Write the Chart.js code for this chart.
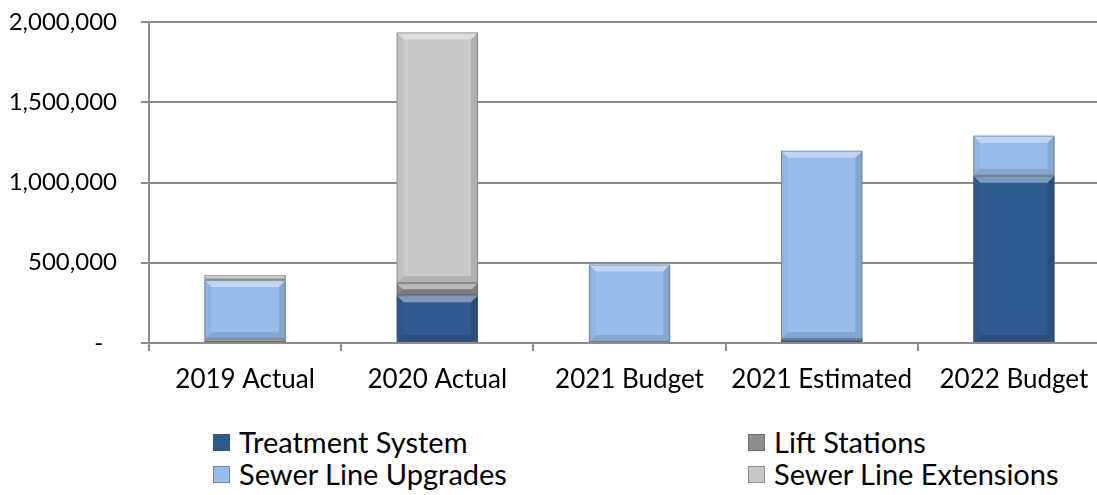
<!DOCTYPE html>
<html>
<head>
<meta charset="utf-8">
<script src="https://cdn.jsdelivr.net/npm/chart.js@4.4.1/dist/chart.umd.min.js"></script>
<style>
  html, body { margin: 0; padding: 0; background: #fff; }
  body { width: 1097px; height: 495px; overflow: hidden; position: relative; font-family: 'Lato', sans-serif; }
  #wrap { position: absolute; left: 0; top: 0; width: 1110px; height: 405px; }
  #leyenda { position: absolute; left: 0; top: 425px; width: 1097px; height: 70px; }
  .it { position: absolute; display: flex; align-items: center; font-size: 29px; line-height: 32px; height: 32px; color: #000; white-space: nowrap; }
  .sw { width: 17px; height: 17px; margin-right: 9px; box-sizing: border-box; }
</style>
</head>
<body>
<div id="wrap"><canvas id="grafico"></canvas></div>
<div id="leyenda"></div>
<script>
// datos
var categorias = ['2019 Actual', '2020 Actual', '2021 Budget', '2021 Estimated', '2022 Budget'];
var treatmentSystem     = [0, 298000, 0, 25000, 1042000];
var liftStations        = [23000, 75000, 0, 0, 0];
var sewerLineUpgrades   = [369000, 0, 489000, 1173000, 250000];
var sewerLineExtensions = [31000, 1562000, 0, 0, 0];
var yTicks = [0, 500000, 1000000, 1500000, 2000000];

var series = ['Treatment System', 'Lift Stations', 'Sewer Line Upgrades', 'Sewer Line Extensions'];
var colores = ['#305b90', '#8e8e8e', '#97bdec', '#c9c9c9'];
var gris = '#8c8c8c';

// ── bisel tipo Excel sobre cada barra ───────────────────────────────────────
var bisel = {
    id: 'bisel',
    afterDatasetsDraw: function (chart) {
        var ctx = chart.ctx;
        chart.data.datasets.forEach(function (ds, i) {
            chart.getDatasetMeta(i).data.forEach(function (bar) {
                var t = Math.min(bar.y, bar.base), b = Math.max(bar.y, bar.base);
                var h = b - t;
                if (h < 1) return;
                var l = bar.x - bar.width / 2, r = bar.x + bar.width / 2;
                var k = Math.min(7, h / 2);
                ctx.save();
                ctx.fillStyle = 'rgba(255,255,255,0.38)';
                ctx.beginPath(); ctx.moveTo(l, t); ctx.lineTo(r, t); ctx.lineTo(r - k, t + k); ctx.lineTo(l + k, t + k); ctx.closePath(); ctx.fill();
                ctx.fillStyle = 'rgba(0,0,0,0.12)';
                ctx.beginPath(); ctx.moveTo(l, b); ctx.lineTo(r, b); ctx.lineTo(r - k, b - k); ctx.lineTo(l + k, b - k); ctx.closePath(); ctx.fill();
                ctx.fillStyle = 'rgba(0,0,0,0.04)';
                ctx.beginPath(); ctx.moveTo(l, t); ctx.lineTo(l + k, t + k); ctx.lineTo(l + k, b - k); ctx.lineTo(l, b); ctx.closePath(); ctx.fill();
                ctx.fillStyle = 'rgba(0,0,0,0.12)';
                ctx.beginPath(); ctx.moveTo(r, t); ctx.lineTo(r - k, t + k); ctx.lineTo(r - k, b - k); ctx.lineTo(r, b); ctx.closePath(); ctx.fill();
                ctx.strokeStyle = 'rgba(90,90,90,0.5)';
                ctx.lineWidth = 1;
                ctx.strokeRect(l + 0.5, t + 0.5, bar.width - 1, h - 1);
                ctx.restore();
            });
        });
    }
};

var datos = [treatmentSystem, liftStations, sewerLineUpgrades, sewerLineExtensions];

new Chart(document.getElementById('grafico'), {
    type: 'bar',
    data: {
        labels: categorias,
        datasets: series.map(function (s, i) {
            return {
                label: s,
                data: datos[i],
                backgroundColor: colores[i],
                borderWidth: 0,
                categoryPercentage: 1,
                barPercentage: 0.423
            };
        })
    },
    options: {
        responsive: true,
        maintainAspectRatio: false,
        animation: false,
        layout: { padding: { top: 22, right: 0, bottom: 0, left: 0 } },
        plugins: { legend: { display: false }, tooltip: { enabled: false } },
        scales: {
            x: {
                stacked: true,
                border: { color: gris, width: 2 },
                grid: { drawOnChartArea: false, offset: true, tickLength: 8, color: gris, lineWidth: 2 },
                ticks: { padding: 13, color: '#000', font: { family: 'Lato', size: 26 }, maxRotation: 0, autoSkip: false },
                afterFit: function (s) { s.height = 62; }
            },
            y: {
                stacked: true,
                min: 0,
                max: 2000000,
                afterBuildTicks: function (s) { s.ticks = yTicks.map(function (v) { return { value: v }; }); },
                border: { color: gris, width: 2 },
                grid: { color: gris, lineWidth: 2, tickLength: 8 },
                ticks: {
                    padding: 24,
                    color: '#000',
                    font: { family: 'Lato', size: 24 },
                    callback: function (v) { return v === 0 ? '-\u2007' : v.toLocaleString('en-US'); }
                },
                afterFit: function (s) {
                    s.width = 149;
                    s.paddingTop = 0;
                    s.paddingBottom = 0;
                }
            }
        }
    },
    plugins: [bisel]
});

// ── leyenda en HTML (2 x 2) ────────────────────────────────────────────────
var pos = [[213, 1], [748, 1], [213, 33], [748, 33]];
var leg = document.getElementById('leyenda');
series.forEach(function (s, i) {
    leg.innerHTML +=
        '<div class="it" style="left:' + pos[i][0] + 'px;top:' + pos[i][1] + 'px;">' +
        '<span class="sw" style="background:' + colores[i] + ';border:1px solid rgba(80,80,80,.5);"></span>' +
        s + '</div>';
});
</script>
</body>
</html>
